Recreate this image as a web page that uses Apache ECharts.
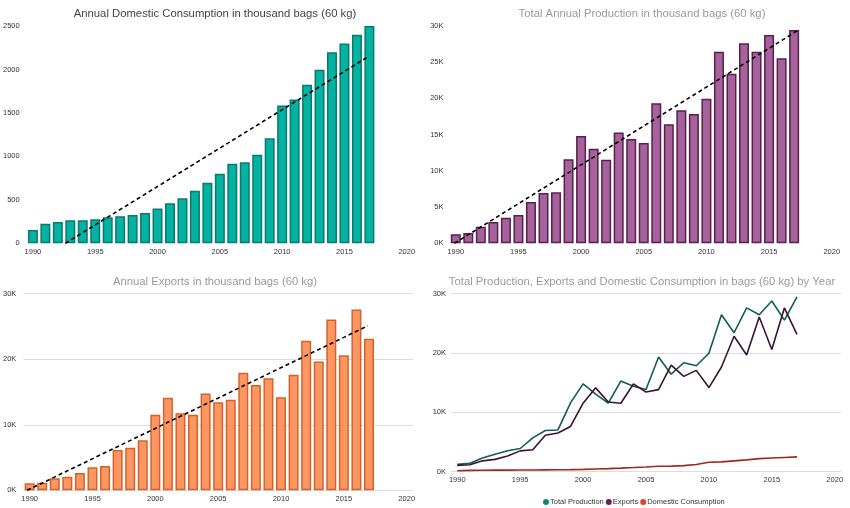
<!DOCTYPE html>
<html><head><meta charset="utf-8">
<script src="https://cdn.jsdelivr.net/npm/echarts@6/dist/echarts.min.js"></script>
<style>html,body{margin:0;padding:0;background:#fff}#c{width:850px;height:508px}</style>
</head><body><div id="c"></div>
<script>
const years = [1990,1991,1992,1993,1994,1995,1996,1997,1998,1999,2000,2001,2002,2003,2004,2005,2006,2007,2008,2009,2010,2011,2012,2013,2014,2015,2016,2017];
const domestic = [153,226,245,265,265,276,299,311,326,349,399,460,518,606,698,801,916,932,1020,1208,1584,1653,1825,1998,2197,2300,2400,2500];
const production = [1240,1430,2300,2950,3540,3910,5710,6950,7040,11600,14800,13070,11550,15280,14400,13850,19330,16430,18360,17860,19970,26460,23420,27610,26460,28760,25540,29450];
const exportsK = [1070,1170,1830,2080,2640,3510,3710,6150,6510,7630,11540,14130,11740,11540,14790,13420,13830,17950,16070,17080,14180,17640,22830,19670,26080,20590,27600,23130];
const trendDomestic = [[1992.6,0],[2017,2155]];
const trendProduction = [[1989.9,0],[2017.4,29500]];
const trendExports = [[1989.8,0],[2016.9,25100]];
const xTicks = [1990,1995,2000,2005,2010,2015,2020];
const titles = ['Annual Domestic Consumption in thousand bags (60 kg)','Total Annual Production in thousand bags (60 kg)','Annual Exports in thousand bags (60 kg)','Total Production, Exports and Domestic Consumption in bags (60 kg) by Year'];
const legendNames = ['Total Production','Exports','Domestic Consumption'];

const FONT = 'Liberation Sans';
const pairs = a => years.map((y,i)=>[y,a[i]]);
const kfmt = v => (v/1000)+'K';
const plain = v => String(v);

function xAxis(gi, margin){
  return {type:'value', gridIndex:gi, min:1989.5, max:2020.5,
    axisLine:{show:false}, axisTick:{show:false}, splitLine:{show:false},
    axisLabel:{fontSize:7.5, color:'#333', fontFamily:FONT, margin:margin, showMinLabel:false, showMaxLabel:false,
      formatter: v => xTicks.indexOf(v)>=0 ? String(v) : ''}};
}
function yAxis(gi, max, interval, fmt, grid, margin){
  return {type:'value', gridIndex:gi, min:0, max:max, interval:interval,
    axisLine:{show:false}, axisTick:{show:false},
    splitLine:{show:grid, lineStyle:{color:'#dcdcdc', width:1}},
    axisLabel:{fontSize:7.5, color:'#333', fontFamily:FONT, margin:margin, formatter:fmt}};
}
function bars(gi, data, fill, border){
  return {type:'bar', xAxisIndex:gi, yAxisIndex:gi, data:pairs(data), barWidth:10, clip:false,
    itemStyle:{color:fill, borderColor:border, borderWidth:1.5}, silent:true, z:2};
}
function trend(gi, data){
  return {type:'line', xAxisIndex:gi, yAxisIndex:gi, data:data, symbol:'none', silent:true, z:5,
    lineStyle:{color:'#000', width:1.6, type:[4,3]}};
}
function title(text, left, top, color){
  return {text:text, left:left, top:top, textAlign:'center',
    textStyle:{fontSize:11.3, fontWeight:'normal', color:color, fontFamily:FONT}};
}

const chart = echarts.init(document.getElementById('c'));
chart.setOption({
  animation:false,
  title:[title(titles[0],210,3,'#444'), title(titles[1],637,3,'#9a9a9a'), title(titles[2],210,271,'#9a9a9a'), title(titles[3],637,271,'#9a9a9a')],
  grid:[
    {left:25, right:437, top:26, bottom:264.7},
    {left:449.5, right:12, top:26, bottom:264.7},
    {left:22.7, right:437, top:293.7, bottom:17.7},
    {left:451, right:9, top:293.7, bottom:36.3}
  ],
  xAxis:[xAxis(0,5), xAxis(1,5), xAxis(2,5), xAxis(3,4)],
  yAxis:[
    yAxis(0,2500,500,plain,false,7),
    yAxis(1,30000,5000,kfmt,false,6),
    yAxis(2,30000,10000,kfmt,true,7),
    yAxis(3,30000,10000,kfmt,true,5)
  ],
  legend:{left:538, top:493, itemWidth:6, itemHeight:6, itemGap:2, icon:'circle',
    textStyle:{fontSize:7.5, color:'#333', fontFamily:FONT, padding:[0,0,0,-4]},
    data:[{name:legendNames[0], itemStyle:{color:'#118a72'}},{name:legendNames[1], itemStyle:{color:'#6b1f5f'}},{name:legendNames[2], itemStyle:{color:'#d9482a'}}]},
  series:[
    bars(0, domestic, '#01b3a0', '#0b7a6e'),
    trend(0, trendDomestic),
    bars(1, production, '#a6629a', '#5a1e4f'),
    trend(1, trendProduction),
    bars(2, exportsK, '#fd9660', '#d5622c'),
    trend(2, trendExports),
    {name:legendNames[0], type:'line', xAxisIndex:3, yAxisIndex:3, data:pairs(production), symbol:'none', lineStyle:{color:'#0f5e4e', width:1.6}, itemStyle:{color:'#0f5e4e'}},
    {name:legendNames[1], type:'line', xAxisIndex:3, yAxisIndex:3, data:pairs(exportsK), symbol:'none', lineStyle:{color:'#3b1235', width:1.6}, itemStyle:{color:'#3b1235'}},
    {name:legendNames[2], type:'line', xAxisIndex:3, yAxisIndex:3, data:pairs(domestic), symbol:'none', lineStyle:{color:'#a2281c', width:1.6}, itemStyle:{color:'#a2281c'}}
  ]
});
</script></body></html>
